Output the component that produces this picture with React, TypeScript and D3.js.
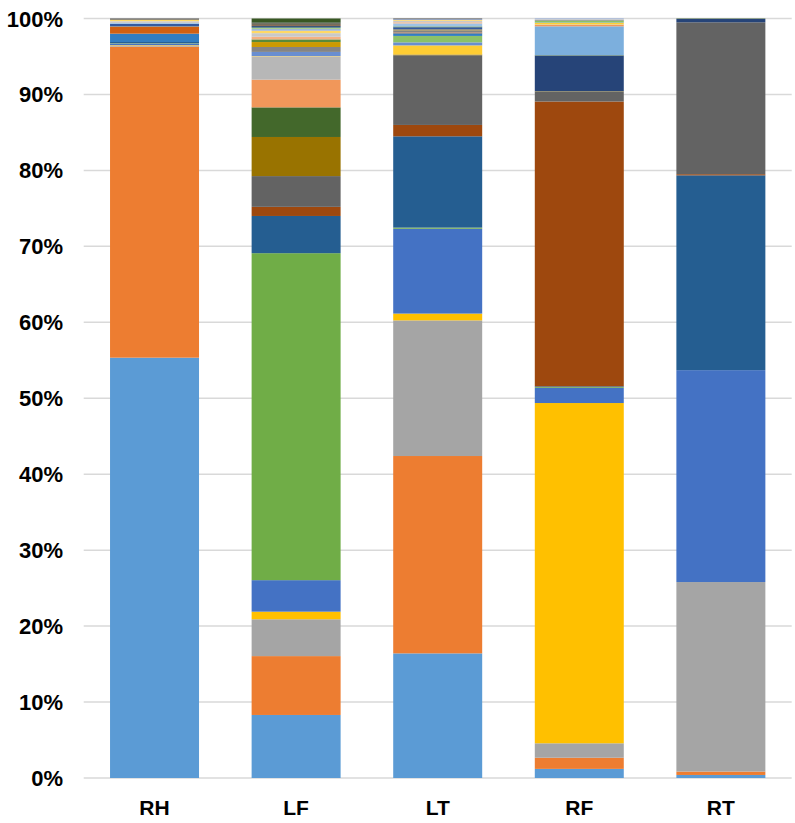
import { useEffect, useRef } from 'react'
import * as d3 from 'd3'

// bar categories
const categories = ['RH', 'LF', 'LT', 'RF', 'RT']

// excel series colours, in stacking order
const colors = [
  '#5B9BD5', '#ED7D31', '#A5A5A5', '#FFC000', '#4472C4', '#70AD47',
  '#255E91', '#9E480E', '#636363', '#997300', '#264478', '#43682B',
  '#7CAFDD', '#F1975A', '#B7B7B7', '#FFCD33', '#698ED0', '#8CC168',
  '#327DC2', '#D26012', '#848484', '#CC9A00', '#335AA1', '#5A8A39',
  '#9DC3E6', '#F4B183', '#C9C9C9', '#FFD966', '#8FAADC', '#A9D18E',
  '#1F4E79', '#843C0C', '#525252', '#7F6000', '#203864', '#385723',
]

// share of each series per bar (%), same order as colors
const rh = [
  55.4, 41.0, 0.15, 0.05, 0.2, 0.05, 0.15, 0, 0, 0, 0, 0,
  0, 0, 0, 0, 0, 0, 1.1, 0.9, 0.1, 0, 0.3, 0,
  0.2, 0.05, 0.1, 0.2, 0, 0, 0, 0, 0.15, 0, 0, 0,
]
const lf = [
  8.3, 7.75, 4.85, 1.0, 4.15, 43.05, 4.9, 1.2, 4.05, 5.15, 0, 3.9,
  0, 3.65, 3.05, 0.05, 0.55, 0, 0, 0, 0.65, 0.65, 0, 0.35,
  0, 0.35, 0.47, 0.33, 0.2, 0.2, 0.2, 0.1, 0.15, 0.1, 0.1, 0.55,
]
const lt = [
  16.45, 26.05, 17.9, 0.9, 11.2, 0.15, 12.05, 1.5, 9.2, 0.1, 0, 0,
  0, 0, 0, 1.2, 0.4, 0.85, 0.35, 0.1, 0.3, 0.1, 0.3, 0.1,
  0.4, 0.15, 0.2, 0.1, 0.1, 0, 0, 0, 0.1, 0, 0, 0,
]
const rf = [
  1.2, 1.47, 1.9, 44.8, 2.0, 0.1, 0.1, 37.5, 1.3, 0.05, 4.7, 0.05,
  3.8, 0.2, 0.05, 0.2, 0.05, 0.25, 0, 0, 0.1, 0, 0, 0,
  0, 0, 0.1, 0, 0.08, 0, 0, 0, 0, 0, 0, 0,
]
const rt = [
  0.4, 0.45, 24.95, 0, 27.9, 0, 25.65, 0.15, 20.0, 0, 0.45, 0.05,
  0, 0, 0, 0, 0, 0, 0, 0, 0, 0, 0, 0,
  0, 0, 0, 0, 0, 0, 0, 0, 0, 0, 0, 0,
]

const yTicks = [0, 0.1, 0.2, 0.3, 0.4, 0.5, 0.6, 0.7, 0.8, 0.9, 1]

const StackedChart = () => {
  const ref = useRef<SVGSVGElement>(null)

  useEffect(() => {
    const svg = d3.select(ref.current)
    svg.selectAll('*').remove()

    const left = 83.7, right = 791.7, top = 18.5, bottom = 778

    const x = d3.scaleBand()
      .domain(categories)
      .range([left, right])
      .paddingInner(0.3715)
      .paddingOuter(0.186)

    const y = d3.scaleLinear().domain([0, 1]).range([bottom, top])

    // normalise each bar to 100%
    const rows = [rh, lf, lt, rf, rt]
    const keys = colors.map((_, j) => 's' + j)
    const table = categories.map((c, i) => {
      const vals = rows[i]
      const total = d3.sum(vals)
      const row: any = { cat: c }
      vals.forEach((v, j) => { row['s' + j] = v / total })
      return row
    })

    // grid lines
    svg.append('g')
      .selectAll('line')
      .data(yTicks)
      .enter()
      .append('line')
      .attr('x1', left)
      .attr('x2', right)
      .attr('y1', d => y(d))
      .attr('y2', d => y(d))
      .attr('stroke', '#D9D9D9')
      .attr('stroke-width', 1.5)

    const stacked = d3.stack().keys(keys)(table)

    svg.append('g')
      .selectAll('g')
      .data(stacked)
      .enter()
      .append('g')
      .attr('fill', (_, j) => colors[j])
      .selectAll('rect')
      .data(d => d)
      .enter()
      .append('rect')
      .attr('x', (d: any) => x(d.data.cat)!)
      .attr('width', x.bandwidth())
      .attr('y', d => y(d[1]))
      .attr('height', d => Math.max(0, y(d[0]) - y(d[1])))

    // y axis labels
    svg.append('g')
      .selectAll('text')
      .data(yTicks)
      .enter()
      .append('text')
      .attr('x', 63)
      .attr('y', d => y(d) + 8)
      .attr('text-anchor', 'end')
      .style('font-family', '"Liberation Sans", Arial, sans-serif')
      .style('font-weight', 'bold')
      .style('font-size', '22px')
      .text(d => d3.format('.0%')(d))

    // x axis labels
    svg.append('g')
      .selectAll('text')
      .data(categories)
      .enter()
      .append('text')
      .attr('x', d => x(d)! + x.bandwidth() / 2)
      .attr('y', 815)
      .attr('text-anchor', 'middle')
      .style('font-family', '"Liberation Sans", Arial, sans-serif')
      .style('font-weight', 'bold')
      .style('font-size', '21px')
      .text(d => d)
  }, [])

  return (
    <svg
      ref={ref}
      width={795}
      height={823}
      style={{ position: 'absolute', left: 0, top: 0, background: '#fff' }}
    />
  )
}

export default function App() {
  return <StackedChart />
}
